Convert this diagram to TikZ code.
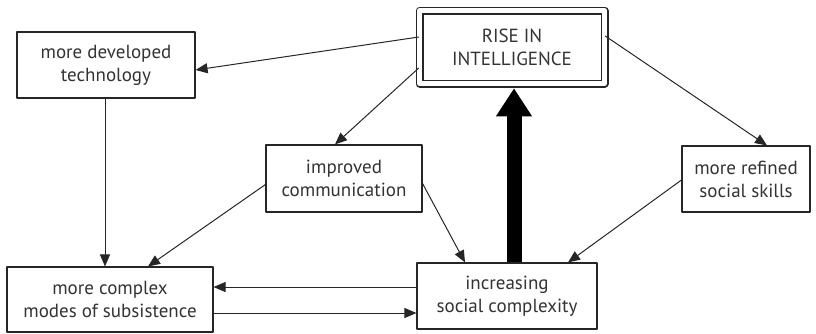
\documentclass[tikz,border=0pt]{standalone}
\usepackage{fontspec}
\setmainfont{PT Sans}
\usetikzlibrary{arrows.meta}

\begin{document}
\begin{tikzpicture}[x=1pt, y=-1pt, line join=round,
  box/.style={draw=black!85, line width=1.1pt, align=center, text=black!80,
    font=\fontsize{19}{23}\selectfont, inner sep=0pt},
  arr/.style={draw=black!85, line width=1pt, -{Triangle[length=12pt, width=10pt]}},
  bigarr/.style={line width=15pt, -{Triangle[length=28pt, width=34pt]}}]
  \useasboundingbox (0,0) rectangle (816,333);
  % Boîtes
  \node[box, double, double distance=5pt, line width=1.5pt, minimum width=185pt, minimum height=73pt]
    (rise) at (512,47) {RISE IN\\INTELLIGENCE};
  \node[box, minimum width=178pt, minimum height=66pt] (tech) at (106,65)
    {more developed\\technology};
  \node[box, minimum width=156pt, minimum height=67pt] (comm) at (344,178.5)
    {improved\\communication};
  \node[box, minimum width=128pt, minimum height=66pt] (skills) at (746,179)
    {more refined\\social skills};
  \node[box, minimum width=206pt, minimum height=65pt] (subs) at (110,299.5)
    {more complex\\modes of subsistence};
  \node[box, minimum width=180pt, minimum height=66pt] (soc) at (507,296)
    {increasing\\social complexity};
  % Flèches depuis l'intelligence
  \draw[arr] ([yshift=10pt]rise.west) -- ([yshift=-5pt]tech.east);
  \draw[arr] ([yshift=-21pt]rise.west) -- ([xshift=-9pt]comm.north);
  \draw[arr] ([yshift=11pt]rise.east) -- ([xshift=21pt]skills.north);
  % Vers les modes de subsistance
  \draw[arr] ([xshift=-1pt]tech.south) -- ([xshift=-1pt]tech.south |- subs.north);
  \draw[arr] ([yshift=-6pt]comm.west) -- ([xshift=38pt]subs.north);
  % Vers la complexité sociale
  \draw[arr] ([yshift=-5pt]comm.east) -- ([xshift=-42pt]soc.north);
  \draw[arr] ([yshift=-1pt]skills.west) -- ([xshift=61pt]soc.north);
  \draw[arr] ([yshift=9pt]soc.west) -- ([yshift=9pt]soc.west -| subs.east);
  \draw[arr] ([yshift=-13.5pt]subs.east) -- ([yshift=-13.5pt]subs.east -| soc.west);
  % Rétroaction principale
  \draw[bigarr] ([xshift=7pt]soc.north) -- ([xshift=2pt, yshift=-4pt]rise.south);
\end{tikzpicture}
\end{document}
